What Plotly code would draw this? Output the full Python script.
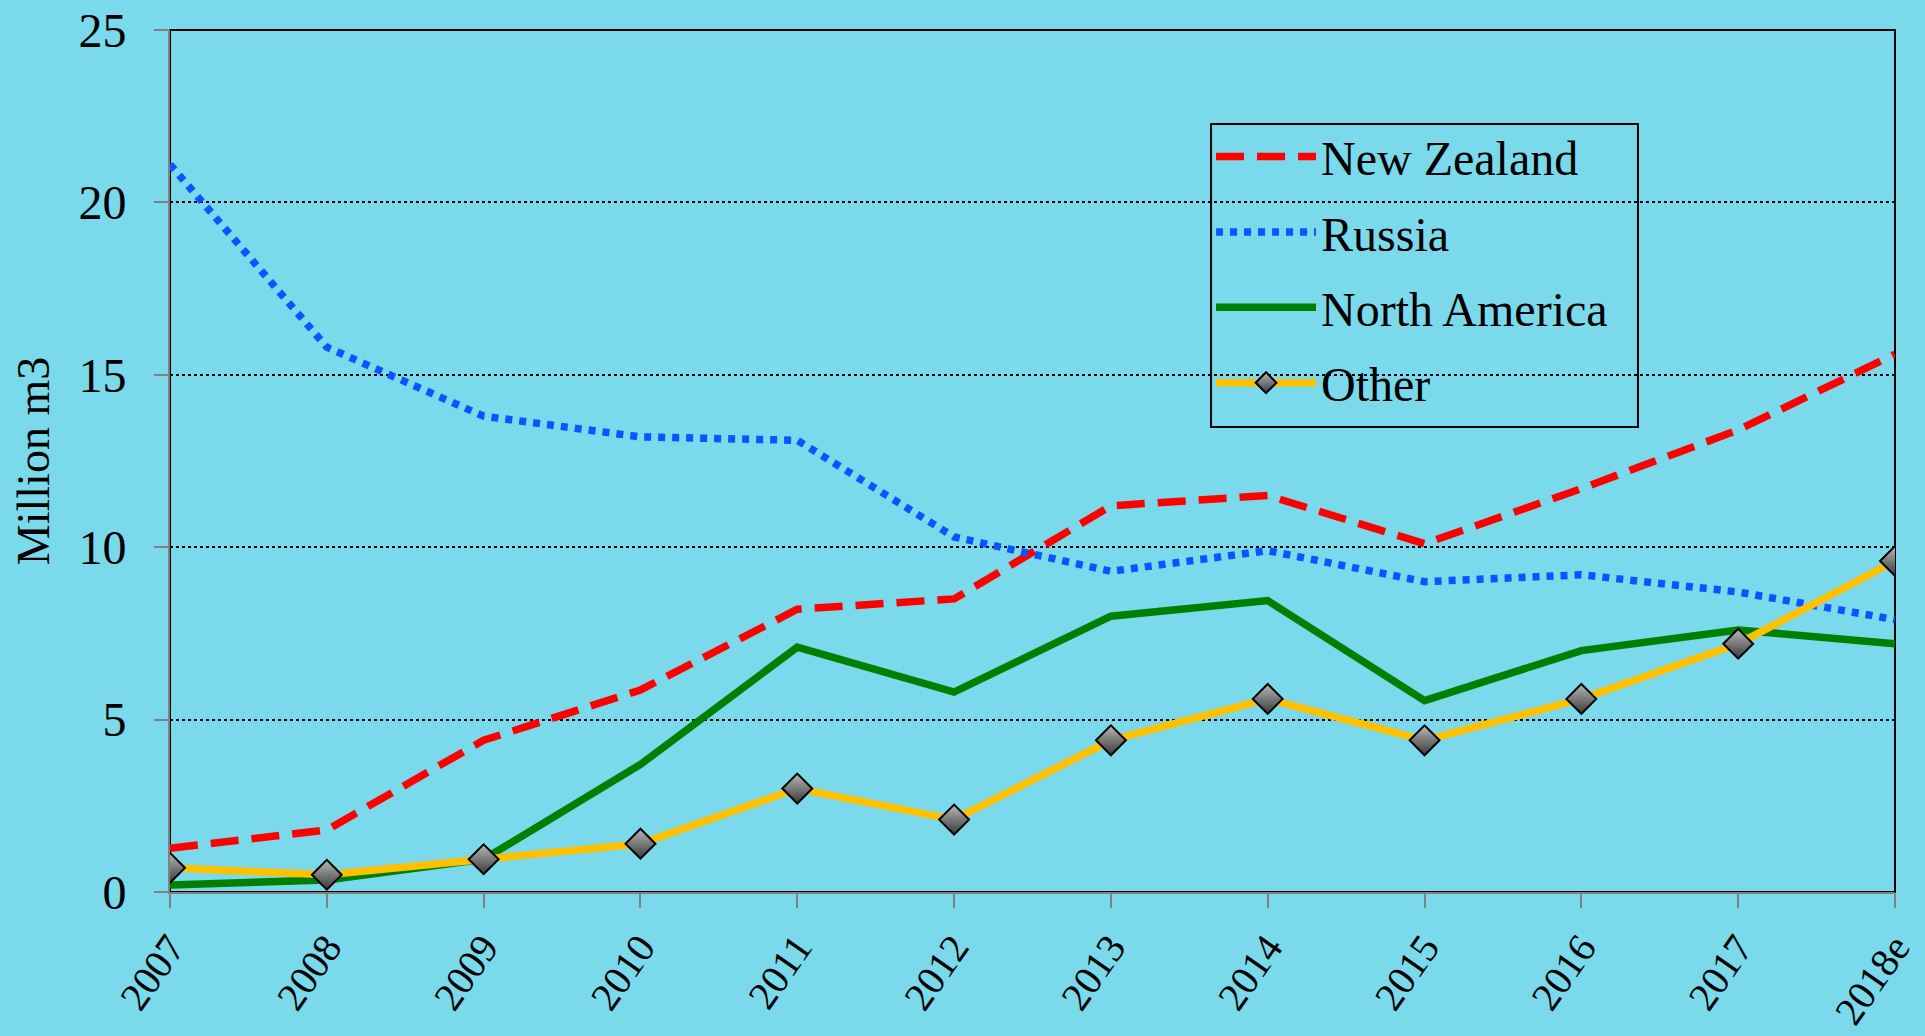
import plotly.graph_objects as go

# 数据
years = ['2007', '2008', '2009', '2010', '2011', '2012', '2013', '2014', '2015', '2016', '2017', '2018e']
new_zealand = [1.27, 1.8, 4.4, 5.86, 8.2, 8.5, 11.2, 11.5, 10.1, 11.7, 13.4, 15.6]
russia = [21.1, 15.8, 13.8, 13.2, 13.1, 10.3, 9.3, 9.9, 9.0, 9.2, 8.7, 7.9]
north_america = [0.2, 0.35, 0.95, 3.7, 7.1, 5.8, 8.0, 8.45, 5.55, 7.0, 7.6, 7.2]
other = [0.7, 0.5, 0.95, 1.4, 3.0, 2.1, 4.4, 5.6, 4.4, 5.6, 7.2, 9.6]

BG = '#7AD9EB'
FONT = 'Liberation Serif, Times New Roman, serif'

fig = go.Figure()

fig.add_trace(go.Scatter(
    x=years, y=new_zealand, name='New Zealand', mode='lines', legendgroup='nz',
    line=dict(color='#FF0000', width=7.5, dash='28px,13px')
))
fig.add_trace(go.Scatter(
    x=years, y=russia, name='Russia', mode='lines', legendgroup='ru',
    line=dict(color='#0A55FF', width=7.5, dash='7px,7px')
))
fig.add_trace(go.Scatter(
    x=years, y=north_america, name='North America', mode='lines', legendgroup='na',
    line=dict(color='#008000', width=7.5)
))
fig.add_trace(go.Scatter(
    x=years, y=other, name='Other', mode='lines+markers', legendgroup='ot',
    line=dict(color='#FFC000', width=7.5),
    marker=dict(symbol='diamond', size=23, color='#B8B8B8',
                gradient=dict(type='vertical', color='#3A3A3A'),
                line=dict(color='#000000', width=2))
))

# 图框（上、右为黑色）
fig.add_shape(type='rect', xref='paper', yref='paper', x0=0, y0=0, x1=1, y1=1,
              line=dict(color='#000000', width=2), layer='below')
# 图例外框
fig.add_shape(type='rect', xref='paper', yref='paper', x0=0.6035, y0=0.5394, x1=0.851, y1=0.891,
              line=dict(color='#000000', width=2), layer='above')

fig.update_layout(
    width=1925, height=1036,
    margin=dict(l=170, r=30, t=30, b=144),
    paper_bgcolor=BG, plot_bgcolor=BG,
    font=dict(family=FONT, size=48, color='#000000'),
    showlegend=True,
    legend=dict(
        x=0.6035, y=0.897, xanchor='left', yanchor='top',
        bgcolor='rgba(0,0,0,0)', borderwidth=0,
        font=dict(family=FONT, size=48), tracegroupgap=10,
        itemwidth=100,
    ),
)

fig.update_xaxes(
    type='category', range=[0, 11], tickangle=-55, automargin=False,
    showline=True, linecolor='#808080', linewidth=2,
    ticks='outside', ticklen=14, tickcolor='#808080', tickwidth=2,
    showgrid=False, tickfont=dict(family=FONT, size=40),
)
fig.update_yaxes(
    range=[0, 25], dtick=5, automargin=False,
    showline=True, linecolor='#808080', linewidth=2,
    ticks='outside', ticklen=14, tickcolor='#808080', tickwidth=2,
    showgrid=True, gridcolor='#000000', gridwidth=1.5, griddash='dot',
    zeroline=False, ticklabelstandoff=18,
    title=dict(text='Million m3', font=dict(family=FONT, size=46), standoff=14),
    tickfont=dict(family=FONT, size=48),
)

fig.write_html('out.html', config={'displayModeBar': False},
               post_script="document.body.style.margin='0';")
